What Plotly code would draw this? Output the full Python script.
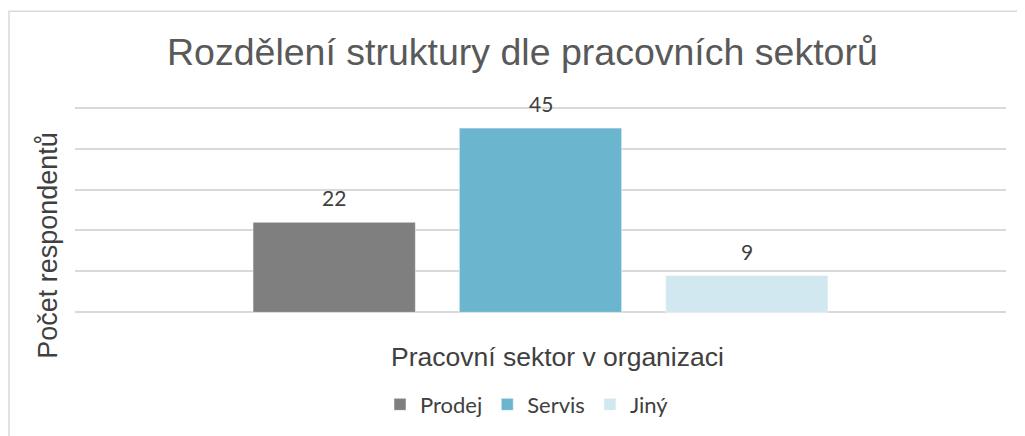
import plotly.graph_objects as go

series_names = ["Prodej", "Servis", "Jiný"]
series_values = [22, 45, 9]
series_colors = ["#7f7f7f", "#6bb5cf", "#d2e8f1"]
y_ticks = [0, 10, 20, 30, 40, 50]
chart_title = "Rozdělení struktury dle pracovních sektorů"
x_title = "Pracovní sektor v organizaci"
y_title = "Počet respondentů"

# the page body has an 8px margin, so the figure is drawn 8px in from the window edge
O = 8
W, H = 1025 - O, 436 - O
# plot area in window pixels: x 75..1006, y 106..314.3
L, R, T, B = 75, 1006, 106, 314.3
def px(x):
    return (x - L) / (R - L)
def py(y):
    return (B - y) / (B - T)

fig = go.Figure()
for name, val, col in zip(series_names, series_values, series_colors):
    fig.add_trace(go.Bar(
        x=[name], y=[val], name=name, width=0.787,
        marker=dict(color=col, line=dict(color="rgba(255,255,255,0.5)", width=1)),
    ))

annotations = []
for name, val in zip(series_names, series_values):
    annotations.append(dict(x=name, y=val, xref="x", yref="y", text=str(val),
                            showarrow=False, yanchor="bottom", yshift=10,
                            font=dict(family="Lato, Open Sans, sans-serif", size=21, color="#404040")))
annotations.append(dict(x=px(522), y=py(52), xref="paper", yref="paper", text=chart_title,
                        showarrow=False, xanchor="center", yanchor="middle",
                        font=dict(family="Liberation Sans, Arial, sans-serif", size=37.5, color="#595959")))
annotations.append(dict(x=px(557), y=py(357), xref="paper", yref="paper", text=x_title,
                        showarrow=False, xanchor="center", yanchor="middle",
                        font=dict(family="Liberation Sans, Arial, sans-serif", size=26.5, color="#404040")))
annotations.append(dict(x=px(48), y=py(246), xref="paper", yref="paper", text=y_title,
                        showarrow=False, xanchor="center", yanchor="middle", textangle=-90,
                        font=dict(family="Liberation Sans, Arial, sans-serif", size=27, color="#404040")))

fig.update_layout(
    width=W, height=H,
    margin=dict(l=L - O, r=1025 - R, t=T - O, b=436 - B, autoexpand=False),
    paper_bgcolor="white", plot_bgcolor="white",
    barmode="overlay",
    showlegend=True,
    legend=dict(orientation="h", x=px(527), xanchor="center", y=py(405), yanchor="middle",
                font=dict(family="Lato, Open Sans, sans-serif", size=22, color="#404040"),
                itemwidth=30, traceorder="normal", bgcolor="rgba(0,0,0,0)"),
    xaxis=dict(type="category", range=[-1.2565, 3.2565], showticklabels=False, showline=False,
               zeroline=False, showgrid=False, automargin=False),
    yaxis=dict(range=[-0.4, 50.4], tickvals=y_ticks, showticklabels=False, showline=False,
               zeroline=False, showgrid=True, gridcolor="#d9d9d9", gridwidth=1.5, automargin=False),
    annotations=annotations,
    shapes=[dict(type="rect", xref="paper", yref="paper",
                 x0=px(9), x1=px(1040), y0=py(450), y1=py(11),
                 line=dict(color="#d9d9d9", width=1.5), fillcolor="rgba(0,0,0,0)", layer="below")],
)

fig.write_html("out.html")
